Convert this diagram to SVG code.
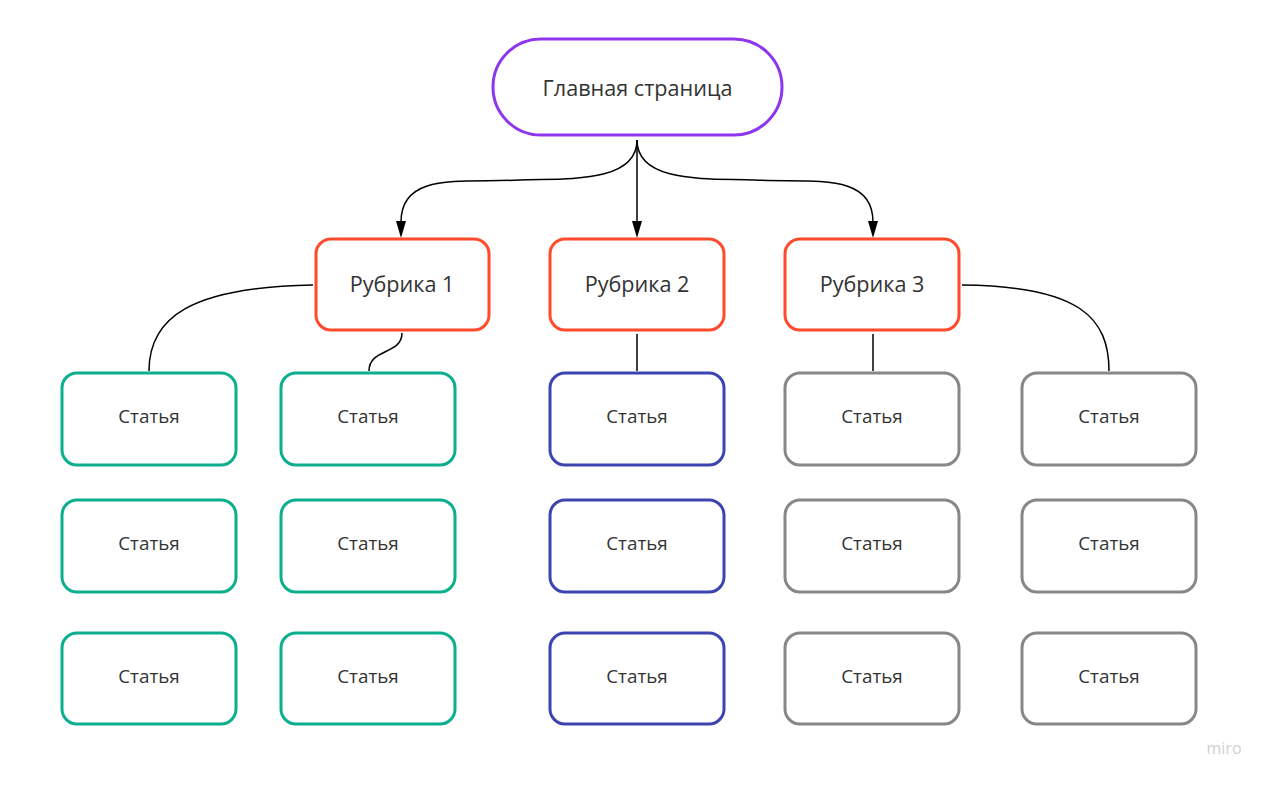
<svg xmlns="http://www.w3.org/2000/svg" width="1273" height="785" viewBox="0 0 1273 785">
<style>
.box{fill:#fff;stroke-width:3}
.rub{stroke:#FF4B2B}
.teal{stroke:#0BAE8D}
.blue{stroke:#3C44B2}
.gray{stroke:#878787}
.t{font-family:"Open Sans","Noto Sans","Liberation Sans",sans-serif;fill:#333;text-anchor:middle;dominant-baseline:central}
.lg{font-size:21.6px}
.sm{font-size:18.8px}
.c{fill:none;stroke:#000;stroke-width:1.5}
.ah{fill:#000}
</style>
<rect width="1273" height="785" fill="#fff"/>
<g id="connectors">
<path class="c" d="M637,140 L637,222"/>
<path class="ah" d="M632,221 L642,221 L637,238 Z"/>
<path class="c" d="M637,140 C637,185 560,178 520,180 C460,183 401,172 401,222"/>
<path class="ah" d="M396,221 L406,221 L401,238 Z"/>
<path class="c" d="M637,140 C637,185 714,178 754,180 C814,183 873,172 873,222"/>
<path class="ah" d="M868,221 L878,221 L873,238 Z"/>
<path class="c" d="M313,285 C190,287 149,318 149,371"/>
<path class="c" d="M402,333 C402,355 369,348 369,371"/>
<path class="c" d="M637,334 L637,371"/>
<path class="c" d="M873,334 L873,371"/>
<path class="c" d="M962,285 C1080,286 1109,318 1109,371"/>
</g>
<g id="main">
<rect class="box" x="493" y="39" width="289" height="96" rx="48" stroke="#8E36EE"/>
<text class="t lg" x="637.5" y="87">Главная страница</text>
</g>
<g id="rubrika1"><rect class="box rub" x="316" y="239" width="173" height="91" rx="15"/><text class="t lg" x="402" y="283">Рубрика 1</text></g>
<g id="rubrika2"><rect class="box rub" x="550" y="239" width="174" height="91" rx="15"/><text class="t lg" x="637" y="283">Рубрика 2</text></g>
<g id="rubrika3"><rect class="box rub" x="785" y="239" width="174" height="91" rx="15"/><text class="t lg" x="872" y="283">Рубрика 3</text></g>

<g id="a11"><rect class="box teal" x="62" y="373" width="174" height="92" rx="15"/><text class="t sm" x="149" y="416">Статья</text></g>
<g id="a12"><rect class="box teal" x="62" y="500" width="174" height="92" rx="15"/><text class="t sm" x="149" y="543">Статья</text></g>
<g id="a13"><rect class="box teal" x="62" y="633" width="174" height="91" rx="15"/><text class="t sm" x="149" y="676">Статья</text></g>

<g id="a21"><rect class="box teal" x="281" y="373" width="174" height="92" rx="15"/><text class="t sm" x="368" y="416">Статья</text></g>
<g id="a22"><rect class="box teal" x="281" y="500" width="174" height="92" rx="15"/><text class="t sm" x="368" y="543">Статья</text></g>
<g id="a23"><rect class="box teal" x="281" y="633" width="174" height="91" rx="15"/><text class="t sm" x="368" y="676">Статья</text></g>

<g id="a31"><rect class="box blue" x="550" y="373" width="174" height="92" rx="15"/><text class="t sm" x="637" y="416">Статья</text></g>
<g id="a32"><rect class="box blue" x="550" y="500" width="174" height="92" rx="15"/><text class="t sm" x="637" y="543">Статья</text></g>
<g id="a33"><rect class="box blue" x="550" y="633" width="174" height="91" rx="15"/><text class="t sm" x="637" y="676">Статья</text></g>

<g id="a41"><rect class="box gray" x="785" y="373" width="174" height="92" rx="15"/><text class="t sm" x="872" y="416">Статья</text></g>
<g id="a42"><rect class="box gray" x="785" y="500" width="174" height="92" rx="15"/><text class="t sm" x="872" y="543">Статья</text></g>
<g id="a43"><rect class="box gray" x="785" y="633" width="174" height="91" rx="15"/><text class="t sm" x="872" y="676">Статья</text></g>

<g id="a51"><rect class="box gray" x="1022" y="373" width="174" height="92" rx="15"/><text class="t sm" x="1109" y="416">Статья</text></g>
<g id="a52"><rect class="box gray" x="1022" y="500" width="174" height="92" rx="15"/><text class="t sm" x="1109" y="543">Статья</text></g>
<g id="a53"><rect class="box gray" x="1022" y="633" width="174" height="91" rx="15"/><text class="t sm" x="1109" y="676">Статья</text></g>

<text x="1224" y="754" font-family="Open Sans, Noto Sans, sans-serif" font-size="16" fill="#cfcfd4" text-anchor="middle">miro</text>
</svg>
